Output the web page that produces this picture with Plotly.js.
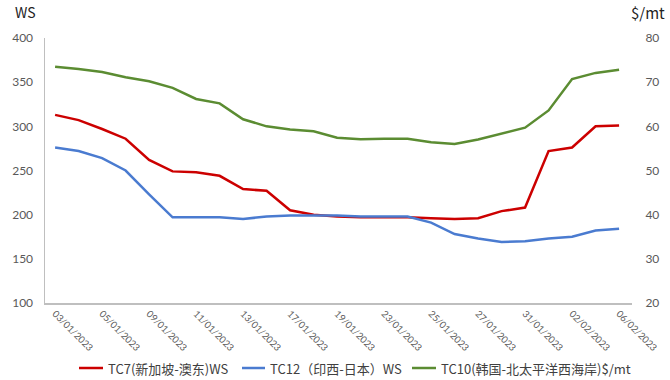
<!DOCTYPE html>
<html>
<head>
<meta charset="utf-8">
<script src="https://cdn.plot.ly/plotly-3.0.1.min.js"></script>
<style>html,body{margin:0;padding:0;background:#fff}#chart{width:670px;height:380px}</style>
</head>
<body>
<div id="chart"></div>
<script>
const dates = ['03/01/2023','04/01/2023','05/01/2023','06/01/2023','09/01/2023','10/01/2023','11/01/2023','12/01/2023','13/01/2023','16/01/2023','17/01/2023','18/01/2023','19/01/2023','20/01/2023','23/01/2023','24/01/2023','25/01/2023','26/01/2023','27/01/2023','30/01/2023','31/01/2023','01/02/2023','02/02/2023','03/02/2023','06/02/2023'];
const tickLabels = ['03/01/2023','05/01/2023','09/01/2023','11/01/2023','13/01/2023','17/01/2023','19/01/2023','23/01/2023','25/01/2023','27/01/2023','31/01/2023','02/02/2023','06/02/2023'];
const tc7 = [313,307,297,286,262,249,248,244,229,227,205,200,198,197,197,197,196,195,196,204,208,272,276,300,301];
const tc12 = [276,272,264,250,223,197,197,197,195,198,199,199,199,198,198,198,191,178,173,169,170,173,175,182,184];
const tc10 = [73.5,73.0,72.3,71.1,70.2,68.7,66.2,65.2,61.6,60.0,59.3,58.9,57.4,57.1,57.2,57.2,56.4,56.0,57.0,58.3,59.7,63.6,70.7,72.1,72.8];
const names = ['TC7(新加坡-澳东)WS','TC12（印西-日本）WS','TC10(韩国-北太平洋西海岸)$/mt'];
const colors = ['#CC0000','#4A7BD0','#5B8C32'];

const font = 'Lato, "Noto Sans CJK SC", sans-serif';
const cjk = '"Noto Sans CJK SC", sans-serif';
const traces = [
  {x: dates, y: tc7, name: names[0], type:'scatter', mode:'lines', line:{color:colors[0], width:2.5}, yaxis:'y'},
  {x: dates, y: tc12, name: names[1], type:'scatter', mode:'lines', line:{color:colors[1], width:2.5}, yaxis:'y'},
  {x: dates, y: tc10, name: names[2], type:'scatter', mode:'lines', line:{color:colors[2], width:2.5}, yaxis:'y2'}
];

// manual legend (placement only)
const legY = -0.2453;
const legLineX = [[0.0579,0.0988],[0.3356,0.3748],[0.6252,0.6661]];
const legTextX = [0.1039,0.3799,0.6712];
const shapes = legLineX.map((p,i)=>({type:'line', xref:'paper', yref:'paper', x0:p[0], x1:p[1], y0:legY, y1:legY,
  line:{color:colors[i], width:2.5}}));
const annotations = names.map((n,i)=>({text:n, xref:'paper', yref:'paper', x:legTextX[i], y:legY, xanchor:'left', yanchor:'middle',
  showarrow:false, font:{family:cjk, size:13, color:'#404040'}}));
annotations.push(
  {text:'WS', xref:'paper', yref:'paper', x:-0.034, y:1.143, xanchor:'center', yanchor:'top', showarrow:false,
    font:{family:cjk, size:14, color:'#222'}},
  {text:'$/mt', xref:'paper', yref:'paper', x:1.027, y:1.143, xanchor:'center', yanchor:'top', showarrow:false,
    font:{family:cjk, size:15, color:'#222'}}
);

const layout = {
  width:670, height:380,
  margin:{l:45, r:38, t:38, b:77},
  paper_bgcolor:'#fff', plot_bgcolor:'#fff',
  font:{family:font, color:'#595959', size:12},
  showlegend:false,
  xaxis:{type:'category', categoryorder:'array', categoryarray:dates, range:[-0.43,24.55], automargin:false,
    tickmode:'array', tickvals:tickLabels, ticktext:tickLabels, tickangle:45,
    tickfont:{size:9.5, color:'#595959'}, showgrid:false, zeroline:false,
    showline:true, linecolor:'#BFBFBF', linewidth:1.5, ticks:''},
  yaxis:{range:[100,400], tickvals:[100,150,200,250,300,350,400], showgrid:false, zeroline:false, automargin:false,
    showline:true, linecolor:'#BFBFBF', linewidth:1.5, ticks:'outside', ticklen:8, tickcolor:'rgba(0,0,0,0)',
    tickfont:{size:12, color:'#595959'}},
  yaxis2:{overlaying:'y', side:'right', range:[20,80], tickvals:[20,30,40,50,60,70,80], showgrid:false, zeroline:false, automargin:false,
    showline:false, ticks:'outside', ticklen:10, tickcolor:'rgba(0,0,0,0)', tickfont:{size:12, color:'#595959'}},
  shapes: shapes,
  annotations: annotations
};
Plotly.newPlot('chart', traces, layout, {displayModeBar:false, staticPlot:true});
</script>
</body>
</html>
